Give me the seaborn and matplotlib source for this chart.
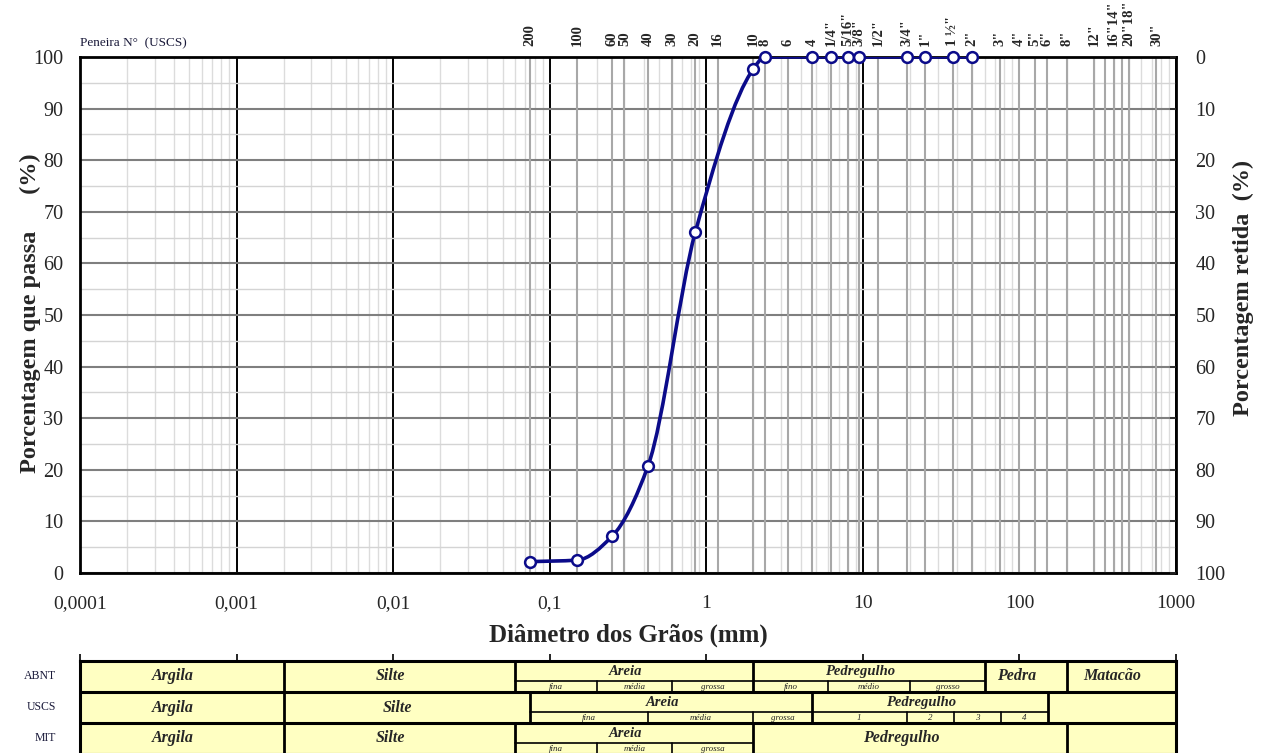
import numpy as np
import pandas as pd
import matplotlib
matplotlib.use("Agg")
import matplotlib.pyplot as plt
import matplotlib.transforms as mtransforms
from matplotlib.path import Path
from matplotlib.patches import PathPatch
from matplotlib.ticker import LogLocator, FixedLocator, NullFormatter
import seaborn as sns

# ---------------- data ----------------
diam_mm = [0.075, 0.15, 0.25, 0.425, 0.85, 2.0, 2.36, 4.75, 6.3, 8.0, 9.5, 19.0, 25.0, 37.5, 50.0]
pct_passing = [2.2, 2.5, 7.1, 20.8, 66.0, 97.7, 100, 100, 100, 100, 100, 100, 100, 100, 100]

sieve_mm = [0.075, 0.15, 0.25, 0.3, 0.425, 0.6, 0.85, 1.18, 2.0, 2.36, 3.35, 4.75, 6.3, 8.0, 9.5,
            12.5, 19.0, 25.0, 37.5, 50.0, 75, 100, 125, 150, 200, 300, 350, 400, 450, 500, 750]
sieve_labels = ['200', '100', '60', '50', '40', '30', '20', '16', '10', '8', '6', '4', '1/4"', '5/16"', '3/8"',
                '1/2"', '3/4"', '1"', '1 ½"', '2"', '3"', '4"', '5"', '6"', '8"', '12"', '', '16"14"', '', '20"18"', '30"']

x_ticks = [1e-4, 1e-3, 1e-2, 1e-1, 1, 10, 100, 1000]
x_ticklabels = ['0,0001', '0,001', '0,01', '0,1', '1', '10', '100', '1000']
y_ticks = [0, 10, 20, 30, 40, 50, 60, 70, 80, 90, 100]

# classification table rows
row_names = ['ABNT', 'USCS', 'MIT']
abnt_bounds = [1e-4, 0.002, 0.06, 2.0, 60, 200, 1000]
abnt_names = ['Argila', 'Silte', 'Areia', 'Pedregulho', 'Pedra', 'Matacão']
abnt_subs = {'Areia': ([0.06, 0.2, 0.6, 2.0], ['fina', 'média', 'grossa']),
             'Pedregulho': ([2.0, 6.0, 20.0, 60.0], ['fino', 'médio', 'grosso'])}
uscs_bounds = [1e-4, 0.002, 0.075, 4.75, 152, 1000]
uscs_names = ['Argila', 'Silte', 'Areia', 'Pedregulho', '']
uscs_subs = {'Areia': ([0.075, 0.425, 2.0, 4.75], ['fina', 'média', 'grossa']),
             'Pedregulho': ([4.75, 19.0, 38.0, 76.0, 152.0], ['1', '2', '3', '4'])}
mit_bounds = [1e-4, 0.002, 0.06, 2.0, 200, 1000]
mit_names = ['Argila', 'Silte', 'Areia', 'Pedregulho', '']
mit_subs = {'Areia': ([0.06, 0.2, 0.6, 2.0], ['fina', 'média', 'grossa'])}

# ---------------- style ----------------
sns.set_style("white")
plt.rcParams['font.family'] = ['Liberation Serif', 'DejaVu Serif']

NAVY = '#0B0B8A'
W, H = 1265, 753
fig = plt.figure(figsize=(W / 100, H / 100), dpi=100)
ax = fig.add_axes([80 / W, 1 - 573 / H, 1096 / W, 516 / H])

df = pd.DataFrame({'diam': diam_mm, 'passing': pct_passing})

ax.set_xscale('log')
ax.set_xlim(1e-4, 1e3)
ax.set_ylim(0, 100)

# grid
ax.set_axisbelow(True)
ax.xaxis.set_major_locator(FixedLocator(x_ticks))
ax.xaxis.set_minor_locator(LogLocator(base=10, subs=np.arange(2, 10)))
ax.xaxis.set_minor_formatter(NullFormatter())
ax.yaxis.set_major_locator(FixedLocator(y_ticks))
ax.yaxis.set_minor_locator(FixedLocator(np.arange(5, 100, 10)))
ax.grid(True, axis='x', which='major', color='black', lw=1.4)
ax.grid(True, axis='x', which='minor', color='#dcdcdc', lw=1.0)
ax.grid(True, axis='y', which='major', color='#7f7f7f', lw=1.5)
ax.grid(True, axis='y', which='minor', color='#d4d4d4', lw=1.0)
ax.vlines(sieve_mm, 0, 100, colors='#a8a8a8', lw=1.5, zorder=0.8)

# smooth curve (monotone cubic Hermite drawn as Bezier path)
u = np.log10(np.array(diam_mm))
yv = np.array(pct_passing, dtype=float)
hseg = np.diff(u)
dseg = np.diff(yv) / hseg
m = np.zeros_like(yv)
m[0], m[-1] = dseg[0], dseg[-1]
for i in range(1, len(yv) - 1):
    if dseg[i - 1] * dseg[i] <= 0:
        m[i] = 0.0
    else:
        w1 = 2 * hseg[i] + hseg[i - 1]
        w2 = hseg[i] + 2 * hseg[i - 1]
        m[i] = (w1 + w2) / (w1 / dseg[i - 1] + w2 / dseg[i])
verts = [(10 ** u[0], yv[0])]
codes = [Path.MOVETO]
for i in range(len(hseg)):
    hh = hseg[i]
    verts += [(10 ** (u[i] + hh / 3), yv[i] + m[i] * hh / 3),
              (10 ** (u[i + 1] - hh / 3), yv[i + 1] - m[i + 1] * hh / 3),
              (10 ** u[i + 1], yv[i + 1])]
    codes += [Path.CURVE4] * 3
ax.add_patch(PathPatch(Path(verts, codes), facecolor='none', edgecolor=NAVY, lw=2.6, zorder=3,
                       capstyle='round', joinstyle='round'))

sns.scatterplot(data=df, x='diam', y='passing', ax=ax, marker='o', s=60, color='white',
                edgecolor=NAVY, linewidth=1.8, zorder=4, clip_on=False)

ax.set_xticks(x_ticks)
ax.set_xticklabels(x_ticklabels, fontsize=14)
ax.set_yticks(y_ticks)
ax.set_yticklabels([str(t) for t in y_ticks], fontsize=14.5)
ax.tick_params(axis='x', which='major', direction='out', length=6, width=1.4, color='black', pad=10)
ax.tick_params(axis='x', which='minor', length=0)
ax.tick_params(axis='y', which='both', length=0, pad=12)
ax.set_xlabel('Diâmetro dos Grãos (mm)', fontsize=18, fontweight='bold', labelpad=8)
ax.set_ylabel('')
for s in ax.spines.values():
    s.set_color('black')
    s.set_linewidth(2)

# right axis
ax2 = ax.twinx()
ax2.set_ylim(100, 0)
ax2.set_yticks(y_ticks)
ax2.set_yticklabels([str(t) for t in y_ticks], fontsize=14.5)
ax2.tick_params(axis='y', direction='in', length=4, width=1.2, pad=14)
for s in ax2.spines.values():
    s.set_visible(False)

# axis titles placed like the reference
fig.text(30 / W, 1 - 313 / H, 'Porcentagem que passa      (%)', rotation=90, ha='center', va='center',
         fontsize=17.5, fontweight='bold')
fig.text(1243 / W, 1 - 288 / H, 'Porcentagem retida  (%)', rotation=90, ha='center', va='center',
         fontsize=17.5, fontweight='bold')

# sieve labels on top
trans_top = mtransforms.blended_transform_factory(ax.transData, ax.transAxes)
for xs, lab in zip(sieve_mm, sieve_labels):
    if lab:
        ax.text(xs, 1 + 11 / 516, lab, transform=trans_top, rotation=90, ha='center', va='bottom',
                fontsize=10.5, fontweight='bold')
ax.text(0, 1 + 8 / 516, 'Peneira N°  (USCS)', transform=ax.transAxes, ha='left', va='bottom',
        fontsize=9.5, color='#1a1a3a')

# ---------------- classification table ----------------
tab = fig.add_axes([80 / W, -1 / H, 1096 / W, 93 / H])
tab.set_xscale('log')
tab.set_xlim(1e-4, 1e3)
tab.set_ylim(3, 0)
tab.set_facecolor('#FFFFC2')
tab.xaxis.set_major_locator(FixedLocator(x_ticks))
tab.xaxis.set_minor_locator(FixedLocator([]))
tab.xaxis.set_major_formatter(NullFormatter())
tab.xaxis.tick_top()
tab.tick_params(axis='x', which='major', direction='out', length=5, width=1.2, color='black')
tab.set_yticks([])
for s in tab.spines.values():
    s.set_linewidth(2.2)
    s.set_color('black')

sub_frac = 0.65
title_off = mtransforms.ScaledTranslation(-0.09, 0, fig.dpi_scale_trans)
for r, (bounds, names, subs) in enumerate([(abnt_bounds, abnt_names, abnt_subs),
                                           (uscs_bounds, uscs_names, uscs_subs),
                                           (mit_bounds, mit_names, mit_subs)]):
    if r > 0:
        tab.plot([1e-4, 1e3], [r, r], color='black', lw=2.2, clip_on=False)
    for b in bounds[1:-1]:
        tab.plot([b, b], [r, r + 1], color='black', lw=2.0)
    for k, name in enumerate(names):
        x0, x1 = bounds[k], bounds[k + 1]
        xc = np.sqrt(x0 * x1)
        if name in subs:
            sb, sn = subs[name]
            tab.plot([x0, x1], [r + sub_frac, r + sub_frac], color='black', lw=1.2)
            for b in sb[1:-1]:
                tab.plot([b, b], [r + sub_frac, r + 1], color='black', lw=1.2)
            tab.text(xc, r + sub_frac / 2 + 0.02, name, ha='center', va='center', fontsize=10.5,
                     fontweight='bold', style='italic', transform=tab.transData + title_off)
            for j, snm in enumerate(sn):
                tab.text(np.sqrt(sb[j] * sb[j + 1]), r + (1 + sub_frac) / 2 + 0.02, snm, ha='center',
                         va='center', fontsize=6.5, style='italic')
        elif name:
            tab.text(xc, r + 0.5, name, ha='center', va='center', fontsize=11.5, fontweight='bold',
                     style='italic', transform=tab.transData + title_off)
    fig.text(56 / W, 1 - (676 + 31 * r) / H, row_names[r], ha='right', va='center', fontsize=8.5,
             color='#1a1a3a')

fig.savefig('out.png', dpi=100)
